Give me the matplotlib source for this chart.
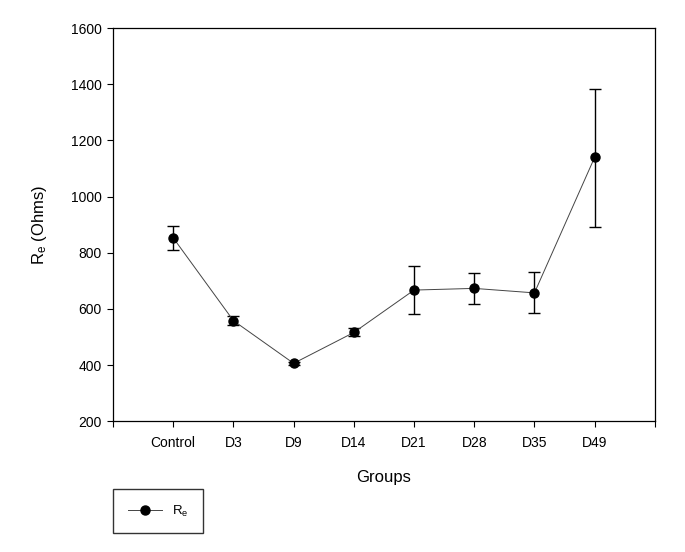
import matplotlib
matplotlib.use("Agg")
import matplotlib.pyplot as plt
from matplotlib.lines import Line2D
import numpy as np

groups = ["Control", "D3", "D9", "D14", "D21", "D28", "D35", "D49"]
re_mean = [853, 558, 406, 516, 667, 673, 657, 1140]
err_low = [809, 542, 400, 502, 580, 618, 584, 891]
err_high = [897, 573, 412, 531, 752, 727, 731, 1383]

plt.rcParams['font.family'] = ['Liberation Sans', 'DejaVu Sans']
plt.rcParams['mathtext.default'] = 'regular'

x = np.arange(1, len(groups) + 1)
mean = np.array(re_mean)
yerr = np.array([mean - np.array(err_low), np.array(err_high) - mean])

fig = plt.figure(figsize=(6.85, 5.52), dpi=100)
ax = fig.add_axes([0.165, 0.237, 0.791, 0.712])

ax.errorbar(x, mean, yerr=yerr, fmt='none', ecolor='black', elinewidth=1.0,
            capsize=4.5, capthick=1.0)
ax.plot(x, mean, '-', color='#444444', linewidth=0.7)
ax.plot(x, mean, 'o', color='black', markersize=6.5)

ax.set_xlim(0, 9)
ax.set_ylim(200, 1600)
ax.set_xticks(x)
ax.set_xticklabels(groups)
ax.set_xticks([0, 9], minor=True)
ax.set_yticks(np.arange(200, 1601, 200))
ax.tick_params(axis='both', which='both', direction='out', length=4,
               width=0.8, labelsize=10, top=False, right=False)
ax.tick_params(axis='x', pad=7)
ax.tick_params(axis='y', pad=4)
for s in ax.spines.values():
    s.set_linewidth(0.9)

ax.set_xlabel("Groups", fontsize=12, labelpad=14)
ax.set_ylabel("R$_e$ (Ohms)", fontsize=12, labelpad=16)

handle = Line2D([], [], color='#444444', linewidth=0.7, marker='o',
                markersize=6.5, markerfacecolor='black',
                markeredgecolor='black')
fig.legend([handle], ['R$_e$'], loc='upper left',
           bbox_to_anchor=(113 / 685, 1 - 489 / 552),
           fontsize=9.5, fancybox=False, edgecolor='#333333', framealpha=1,
           handlelength=2.6, borderpad=1.1, handletextpad=0.75,
           borderaxespad=0)

fig.savefig("out.png", dpi=100)
